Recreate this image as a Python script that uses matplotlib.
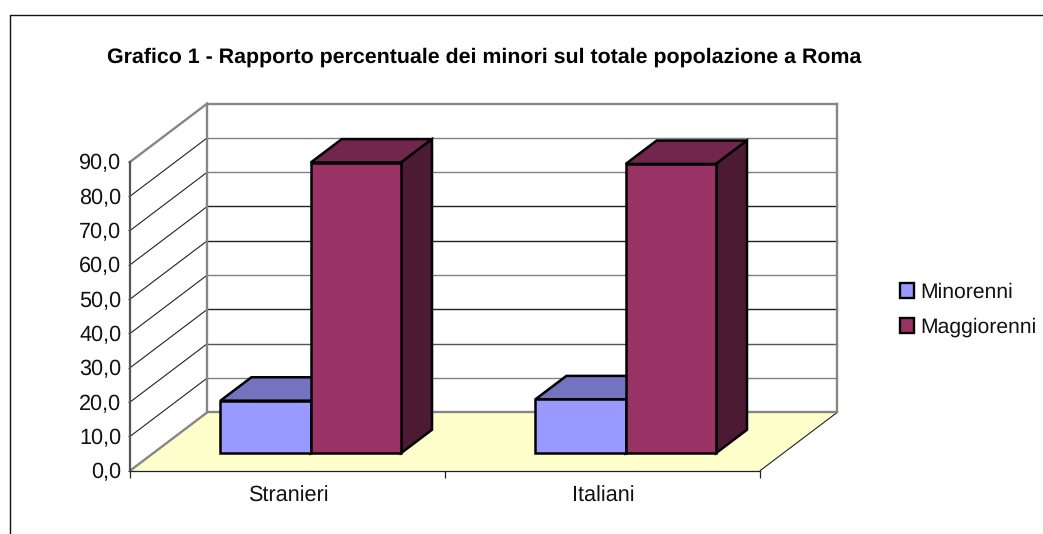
import matplotlib
matplotlib.use("Agg")
import matplotlib.pyplot as plt
from matplotlib.patches import Polygon, Rectangle
from matplotlib.lines import Line2D

plt.rcParams['font.family'] = ['Liberation Sans', 'DejaVu Sans']
plt.rcParams['text.hinting'] = 'no_hinting'
plt.rcParams['text.hinting_factor'] = 8

title = "Grafico 1 - Rapporto percentuale dei minori sul totale popolazione a Roma"
categories = ["Stranieri", "Italiani"]
minorenni = [15.3, 15.7]
maggiorenni = [84.7, 84.3]
y_ticks = [0, 10, 20, 30, 40, 50, 60, 70, 80, 90]
y_labels = ["0,0", "10,0", "20,0", "30,0", "40,0", "50,0", "60,0", "70,0", "80,0", "90,0"]
series_names = ["Minorenni", "Maggiorenni"]

W, H = 1043, 534
fig = plt.figure(figsize=(W / 100, H / 100), dpi=100, facecolor='white')
L, R, B, T = 130.3, 760.3, 470.5, 161.7
ax = fig.add_axes([L / W, 1 - B / H, (R - L) / W, (B - T) / H])
ax.set_xlim(0, 2)
ax.set_ylim(0, 90)
ax.patch.set_visible(False)

# oblique projection: depth 0 (front) .. 1 (back)
px_x = 2 / (R - L)
px_y = 90 / (B - T)
DX = 77.0 * px_x
DY = 58.2 * px_y


def P(x, v, d):
    return (x + d * DX, v + d * DY)


def poly(points, fc, ec, lw, z):
    ax.add_patch(Polygon(points, closed=True, facecolor=fc, edgecolor=ec, linewidth=lw,
                         zorder=z, clip_on=False, joinstyle='miter'))


def line(a, b, color, lw, z):
    ax.add_line(Line2D([a[0], b[0]], [a[1], b[1]], color=color, linewidth=lw, zorder=z,
                       clip_on=False, solid_capstyle='projecting'))


# floor
poly([P(0, 0, 0), P(2, 0, 0), P(2, 0, 1), P(0, 0, 1)], '#FFFFCC', 'none', 0, 1)
line(P(2, 0, 0), P(2, 0, 1), '#222222', 0.8, 1.5)

# gridlines on the side and back walls
for v, c in zip(y_ticks[1:-1], ['#808080', '#555555', '#222222', '#808080', '#222222', '#222222', '#808080', '#808080']):
    line(P(0, v, 0), P(0, v, 1), '#222222', 0.8, 2)
    line(P(0, v, 1), P(2, v, 1), c, 1.0, 2)

# walls
wall = '#868686'
wl = 1.7
line(P(0, 90, 0), P(0, 90, 1), wall, wl, 3)
line(P(0, 90, 1), P(2, 90, 1), wall, wl, 3)
line(P(0, 0, 1), P(0, 90, 1), wall, wl, 3)
line(P(2, 0, 1), P(2, 90, 1), wall, wl, 3)
line(P(0, 0, 1), P(2, 0, 1), wall, wl, 3)
line(P(0, 0, 0), P(0, 0, 1), wall, wl, 3)

# bars
d0, d1 = 0.298, 0.70
bar_w = 90.3 * px_x
fronts = ['#9999FF', '#993366']
tops = ['#7373BF', '#73264D']
sides = ['#4D4D80', '#4D1A33']
edge_lw = 1.8
for i in range(len(categories)):
    x0 = i + 0.5 - bar_w
    for j, vals in enumerate([minorenni, maggiorenni]):
        a = x0 + j * bar_w
        b = a + bar_w
        v = vals[i]
        z = 5 + j * 2 + i * 0.01
        poly([P(a, v, d0), P(b, v, d0), P(b, v, d1), P(a, v, d1)], tops[j], 'black', edge_lw, z)
        poly([P(b, 0, d0), P(b, v, d0), P(b, v, d1), P(b, 0, d1)], sides[j], 'black', edge_lw, z)
        poly([P(a, 0, d0), P(b, 0, d0), P(b, v, d0), P(a, v, d0)], fronts[j], 'black', edge_lw, z + 1)

# axes
for s in ['top', 'right']:
    ax.spines[s].set_visible(False)
ax.spines['left'].set_color('#555555')
ax.spines['left'].set_linewidth(1.6)
ax.spines['bottom'].set_color('#222222')
ax.spines['bottom'].set_linewidth(0.9)
for s in ax.spines.values():
    s.set_zorder(4)
ax.set_yticks(y_ticks)
ax.set_yticklabels(y_labels, fontsize=15.6, color='#111111')
ax.set_xticks([0, 1, 2])
ax.set_xticklabels([])
ax.set_xticks([i + 0.5 for i in range(len(categories))], minor=True)
ax.set_xticklabels(categories, minor=True, fontsize=15.6, color='#111111')
ax.tick_params(axis='y', length=1.8, width=0.8, color='#333333', pad=4.6)
ax.tick_params(axis='x', which='major', length=5, width=0.9, color='#222222')
ax.tick_params(axis='x', which='minor', length=0, pad=11)

# title and frame
fig.text(107 / W, 1 - 62.5 / H, title, fontsize=15.4, fontweight='bold', color='black', va='baseline', ha='left')
fig.add_artist(Line2D([9.8 / W, 9.8 / W, 1], [0, 1 - 15.4 / H, 1 - 15.4 / H],
                      color='#111111', linewidth=1.0, transform=fig.transFigure))

# legend
handles = [Rectangle((0, 0), 1, 1, facecolor=c, edgecolor='black', linewidth=1.7) for c in fronts]
fig.legend(handles, series_names, loc='upper left', bbox_to_anchor=(899.5 / W, 1 - 282.5 / H), frameon=False,
           fontsize=15.2, handlelength=0.71, handleheight=0.71, handletextpad=0.26, labelspacing=0.72,
           borderpad=0, borderaxespad=0, labelcolor='#111111')

fig.savefig('out.png', dpi=100, facecolor='white')
